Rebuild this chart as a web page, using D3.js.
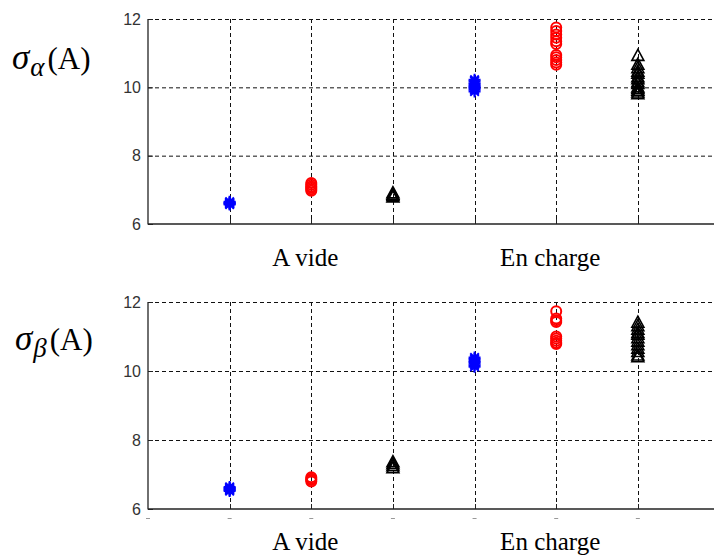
<!DOCTYPE html>
<html>
<head>
<meta charset="utf-8">
<script src="https://cdn.jsdelivr.net/npm/d3@7"></script>
<style>
  html, body { margin: 0; padding: 0; background: #fff; }
  svg { display: block; }
</style>
</head>
<body>
<svg id="chart" width="714" height="557"></svg>
<script>
// ---------- data ----------
const categories = ["A vide", "En charge"];
const categoryPositions = [2, 5];
const yTickValues = [6, 8, 10, 12];
const xTickValues = [1, 2, 3, 4, 5, 6];
const starX = [1, 4];
const circleX = [2, 5];
const triangleX = [3, 6];

// sigma_alpha panel (A)
const alphaStar = [
  [6.57, 6.59, 6.61, 6.63, 6.65],
  [9.88, 9.93, 9.97, 10.0, 10.04, 10.08, 10.12, 10.18, 10.22]
];
const alphaCircle = [
  [6.97, 7.02, 7.06, 7.1, 7.15, 7.2],
  [11.75, 11.65, 11.55, 11.45, 11.35, 11.27, 10.95, 10.88, 10.8, 10.73, 10.66]
];
const alphaTriangle = [
  [6.78, 6.82, 6.86, 6.9],
  [10.92, 10.66, 10.56, 10.46, 10.4, 10.3, 10.24, 10.15, 10.1, 10.0, 9.95, 9.9, 9.85, 9.8]
];

// sigma_beta panel (A)
const betaStar = [
  [6.52, 6.55, 6.58, 6.61, 6.64],
  [10.12, 10.17, 10.22, 10.26, 10.3, 10.35, 10.39]
];
const betaCircle = [
  [6.8, 6.84, 6.88, 6.92],
  [11.73, 11.52, 11.47, 11.42, 11.0, 10.94, 10.88, 10.82, 10.78]
];
const betaTriangle = [
  [7.18, 7.24, 7.3, 7.36],
  [11.4, 11.3, 11.2, 11.1, 11.05, 10.95, 10.85, 10.75, 10.65, 10.55, 10.45, 10.4]
];

// ---------- drawing ----------
const svg = d3.select("#chart");
const x = d3.scaleLinear().domain([0, 7]).range([148, 719.5]);

function drawPanel(opts) {
  const y = d3.scaleLinear().domain([6, 12]).range([opts.bottom, opts.top]);
  const g = svg.append("g");

  // grid lines
  g.append("g").selectAll("line.hg")
    .data(yTickValues.filter(v => v > 6))
    .join("line")
    .attr("x1", x(0)).attr("x2", 714)
    .attr("y1", d => y(d) + 0.5).attr("y2", d => y(d) + 0.5)
    .attr("stroke", "#111").attr("stroke-width", 1)
    .attr("stroke-dasharray", "4,3");
  g.append("g").selectAll("line.vg")
    .data(xTickValues)
    .join("line")
    .attr("x1", d => Math.round(x(d)) + 0.5).attr("x2", d => Math.round(x(d)) + 0.5)
    .attr("y1", y(12)).attr("y2", y(6))
    .attr("stroke", "#111").attr("stroke-width", 1)
    .attr("stroke-dasharray", "4,3");

  // inside ticks
  g.append("g").selectAll("line")
    .data(xTickValues)
    .join("line")
    .attr("x1", d => Math.round(x(d)) + 0.5).attr("x2", d => Math.round(x(d)) + 0.5)
    .attr("y1", y(6) - 5).attr("y2", y(6))
    .attr("stroke", "#222").attr("stroke-width", 1);

  // y axis via d3 axis
  const yAxis = d3.axisLeft(y).tickValues(yTickValues).tickSize(-5).tickPadding(7)
    .tickFormat(d3.format("d"));
  const ya = g.append("g").attr("transform", `translate(${x(0)},0)`).call(yAxis)
    .attr("font-size", 16).attr("font-family", "Liberation Sans, Arial, sans-serif");
  ya.select(".domain").remove();
  ya.selectAll(".tick line").attr("stroke", "#222");
  ya.selectAll(".tick text")
    .style("font-family", "Liberation Sans, Arial, sans-serif")
    .style("font-size", "16px").attr("fill", "#333");

  // axis lines
  g.append("line").attr("x1", x(0)).attr("x2", x(0))
    .attr("y1", y(12)).attr("y2", y(6) + 0.5)
    .attr("stroke", "#222").attr("stroke-width", 1.3);
  g.append("line").attr("x1", x(0)).attr("x2", 714)
    .attr("y1", y(6)).attr("y2", y(6))
    .attr("stroke", "#222").attr("stroke-width", 1.3);

  // markers
  const stars = [];
  opts.star.forEach((vals, i) => vals.forEach(v => stars.push([starX[i], v])));
  const circles = [];
  opts.circle.forEach((vals, i) => vals.forEach(v => circles.push([circleX[i], v])));
  const tris = [];
  opts.triangle.forEach((vals, i) => vals.forEach(v => tris.push([triangleX[i], v])));

  const a = 6, b = 4.3;
  const starPath = `M${-a},0L${a},0M0,${-a}L0,${a}M${-b},${-b}L${b},${b}M${-b},${b}L${b},${-b}`;
  g.append("g").selectAll("path")
    .data(stars).join("path")
    .attr("transform", d => `translate(${x(d[0])},${y(d[1])})`)
    .attr("d", starPath)
    .attr("stroke", "#0000ff").attr("stroke-width", 2).attr("fill", "none");

  g.append("g").selectAll("circle")
    .data(circles).join("circle")
    .attr("cx", d => x(d[0])).attr("cy", d => y(d[1])).attr("r", 5)
    .attr("stroke", "#ff0000").attr("stroke-width", 2).attr("fill", "none");

  const triPath = "M0,-6.5L6,4.5L-6,4.5Z";
  g.append("g").selectAll("path")
    .data(tris).join("path")
    .attr("transform", d => `translate(${x(d[0])},${y(d[1])})`)
    .attr("d", triPath)
    .attr("stroke", "#000").attr("stroke-width", 1.6).attr("fill", "none");

  // category labels
  g.append("g").selectAll("text")
    .data(categories).join("text")
    .attr("x", (d, i) => x(categoryPositions[i]) - 6)
    .attr("y", opts.labelY)
    .attr("text-anchor", "middle")
    .attr("font-family", "Liberation Serif, Times New Roman, serif")
    .attr("font-size", 25).attr("fill", "#000")
    .text(d => d);

  // y label
  const t = g.append("text")
    .attr("x", opts.ylabX).attr("y", opts.ylabY)
    .attr("font-family", "Liberation Serif, Times New Roman, serif")
    .attr("fill", "#000");
  t.append("tspan").attr("font-style", "italic").attr("font-size", 35).text("σ");
  t.append("tspan").attr("font-style", "italic").attr("font-size", 27)
    .attr("dy", 7).attr("dx", 1).text(opts.sub);
  t.append("tspan").attr("font-size", 31).attr("dy", -7).attr("dx", 3).text("(A)");

  return y;
}

drawPanel({ top: 19, bottom: 224, star: alphaStar, circle: alphaCircle,
  triangle: alphaTriangle, labelY: 266, sub: "α", ylabX: 12, ylabY: 69 });
drawPanel({ top: 302, bottom: 509, star: betaStar, circle: betaCircle,
  triangle: betaTriangle, labelY: 550, sub: "β", ylabX: 15, ylabY: 350 });

// small dash tick labels under lower panel
svg.append("g").selectAll("line")
  .data([0].concat(xTickValues)).join("line")
  .attr("x1", d => x(d) - 2).attr("x2", d => x(d) + 2)
  .attr("y1", 518.5).attr("y2", 518.5)
  .attr("stroke", "#999").attr("stroke-width", 1);
</script>
</body>
</html>
